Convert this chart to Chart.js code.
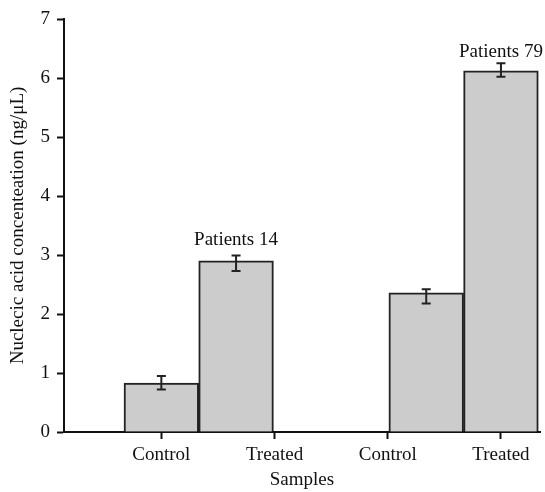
<!DOCTYPE html>
<html>
<head>
<meta charset="utf-8">
<script src="https://cdn.jsdelivr.net/npm/chart.js@4"></script>
<style>
html,body{margin:0;padding:0;background:#fff;}
canvas{display:block;}
</style>
</head>
<body>
<canvas id="c" width="545" height="492"></canvas>
<script>
// ---- data ----
const tickCategories = ['Control', 'Treated', 'Control', 'Treated'];
const tickPositions = [1, 2, 3, 4];
const barPositions = [1, 1.66, 3.34, 4];
const barValues = [0.83, 2.90, 2.36, 6.12];
const errLow = [0.72, 2.73, 2.18, 6.02];
const errHigh = [0.95, 2.99, 2.42, 6.25];
const groupLabels = ['Patients 14', 'Patients 79'];
const groupLabelBar = [1, 3];          // index of bar the label sits over
const groupLabelY = [3.17, 6.36];      // label baseline in data units
const yTicks = [0, 1, 2, 3, 4, 5, 6, 7];

const FONT = '"Liberation Serif", "Times New Roman", serif';
const INK = '#111';

const errorBarPlugin = {
  id: 'errorBars',
  afterDatasetsDraw(chart) {
    const {ctx, scales: {x, y}} = chart;
    ctx.save();
    ctx.strokeStyle = '#222';
    ctx.lineWidth = 2;
    barPositions.forEach((p, i) => {
      const px = x.getPixelForValue(p);
      const y1 = y.getPixelForValue(errLow[i]);
      const y2 = y.getPixelForValue(errHigh[i]);
      ctx.beginPath();
      ctx.moveTo(px, y1); ctx.lineTo(px, y2);
      ctx.moveTo(px - 4.5, y1); ctx.lineTo(px + 4.5, y1);
      ctx.moveTo(px - 4.5, y2); ctx.lineTo(px + 4.5, y2);
      ctx.stroke();
    });
    ctx.fillStyle = INK;
    ctx.font = '19px ' + FONT;
    ctx.textAlign = 'center';
    ctx.textBaseline = 'alphabetic';
    groupLabels.forEach((t, i) => {
      const b = groupLabelBar[i];
      ctx.fillText(t, x.getPixelForValue(barPositions[b]), y.getPixelForValue(groupLabelY[i]));
    });
    ctx.restore();
  }
};

new Chart(document.getElementById('c'), {
  type: 'bar',
  data: {
    datasets: [{
      data: barPositions.map((p, i) => ({x: p, y: barValues[i]})),
      backgroundColor: '#cccccc',
      borderColor: '#222',
      borderWidth: 2,
      borderSkipped: 'bottom',
      categoryPercentage: 1,
      barPercentage: 1
    }]
  },
  options: {
    responsive: false,
    animation: false,
    devicePixelRatio: 1,
    layout: {padding: {top: 19, right: 5, left: 0, bottom: 0}},
    plugins: {legend: {display: false}, tooltip: {enabled: false}},
    scales: {
      x: {
        type: 'linear',
        offset: false,
        min: 0.14,
        max: 4.345,
        afterBuildTicks(s) { s.ticks = tickPositions.map(v => ({value: v})); },
        afterFit(s) { s.height = 60; },
        ticks: {
          autoSkip: false,
          maxRotation: 0,
          color: INK,
          font: {family: FONT, size: 19},
          padding: 5,
          callback: (v) => tickCategories[tickPositions.indexOf(v)]
        },
        grid: {display: true, drawOnChartArea: false, drawTicks: true, tickLength: 7, tickWidth: 2, tickColor: INK, offset: false},
        border: {display: true, color: INK, width: 2},
        title: {display: true, text: 'Samples', color: INK, font: {family: FONT, size: 19}, padding: {top: 0, bottom: 1}}
      },
      y: {
        min: 0,
        max: 7,
        afterBuildTicks(s) { s.ticks = yTicks.map(v => ({value: v})); },
        afterFit(s) { s.width = 64; },
        ticks: {color: INK, font: {family: FONT, size: 19}, padding: 7},
        grid: {display: true, drawOnChartArea: false, drawTicks: true, tickLength: 7, tickWidth: 2, tickColor: INK},
        border: {display: true, color: INK, width: 2},
        title: {display: true, text: 'Nuclecic acid concenteation (ng/μL)', color: INK, font: {family: FONT, size: 19}, padding: {top: 7, bottom: 0}}
      }
    }
  },
  plugins: [errorBarPlugin]
});
</script>
</body>
</html>
